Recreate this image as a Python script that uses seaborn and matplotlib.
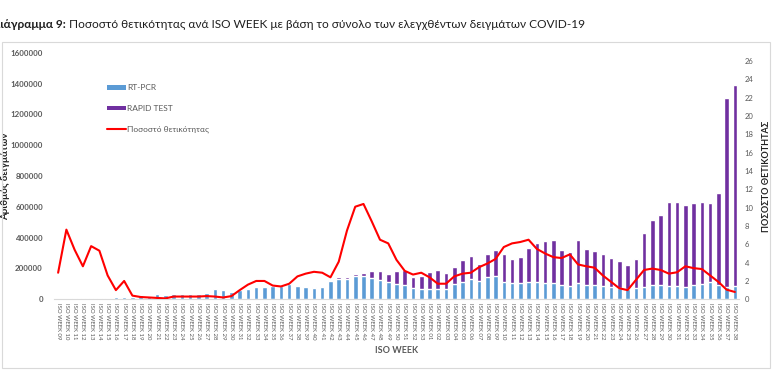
import numpy as np
import pandas as pd
import matplotlib
matplotlib.use("Agg")
import matplotlib.pyplot as plt
import seaborn as sns
from matplotlib.patches import Patch, Rectangle
from matplotlib.lines import Line2D

# Εβδομάδες ISO (2020: 09-53, 2021: 01-38)
weeks_2020 = [f"{w:02d}" for w in range(9, 54)]
weeks_2021 = [f"{w:02d}" for w in range(1, 39)]
week_labels = ["ISO WEEK " + w for w in weeks_2020 + weeks_2021]

# Δείγματα RT-PCR ανά εβδομάδα
rt_pcr = [
    3000, 4000, 6000, 11000, 8000, 11000, 11000, 12000, 14000, 17000,
    26000, 22000, 35000, 26000, 32000, 32000, 35000, 32000, 39000, 65000,
    63000, 48000, 58000, 69000, 78000, 80000, 89000, 89000, 100000, 84000,
    78000, 76000, 80000, 121000, 134000, 130000, 152000, 149000, 139000, 123000,
    110000, 102000, 93000, 71000, 65000,
    65000, 65000, 65000, 100000, 110000, 134000, 121000, 145000, 154000, 110000,
    104000, 104000, 113000, 113000, 108000, 108000, 91000, 87000, 108000, 95000,
    91000, 87000, 82000, 76000, 69000, 74000, 82000, 95000, 91000, 87000,
    87000, 82000, 95000, 100000, 113000, 95000, 82000, 87000,
]

# Δείγματα RAPID TEST ανά εβδομάδα
rapid_test = [
    0, 0, 0, 0, 0, 0, 0, 0, 0, 0,
    0, 0, 0, 0, 0, 0, 0, 0, 0, 0,
    0, 0, 0, 0, 0, 0, 0, 0, 0, 2000,
    2000, 2000, 2000, 7000, 11000, 15000, 13000, 20000, 45000, 59000,
    55000, 82000, 100000, 74000, 84000,
    112000, 128000, 106000, 108000, 143000, 147000, 108000, 152000, 169000, 182000,
    160000, 173000, 220000, 251000, 273000, 275000, 229000, 220000, 275000, 234000,
    221000, 207000, 189000, 171000, 156000, 190000, 345000, 418000, 455000, 547000,
    543000, 528000, 533000, 534000, 510000, 593000, 1221000, 1305000,
]

# Ποσοστό θετικότητας (%)
positivity = [
    2.9, 7.6, 5.4, 3.6, 5.8, 5.3, 2.6, 1.0, 2.0, 0.4,
    0.25, 0.2, 0.15, 0.1, 0.3, 0.3, 0.3, 0.3, 0.35, 0.3,
    0.2, 0.35, 1.0, 1.6, 2.0, 2.0, 1.5, 1.4, 1.7, 2.5,
    2.8, 3.0, 2.9, 2.4, 4.1, 7.5, 10.1, 10.4, 8.5, 6.5,
    6.1, 4.3, 3.1, 2.7, 2.9,
    2.4, 1.7, 1.7, 2.5, 2.8, 2.9, 3.5, 3.9, 4.4, 5.7,
    6.1, 6.25, 6.5, 5.5, 5.0, 4.6, 4.5, 4.9, 3.8, 3.6,
    3.45, 2.6, 1.9, 1.2, 1.0, 2.1, 3.2, 3.35, 3.2, 2.8,
    2.95, 3.6, 3.4, 3.3, 2.6, 1.9, 1.05, 0.8,
]

df = pd.DataFrame({
    "week": week_labels,
    "rt_pcr": rt_pcr,
    "rapid": rapid_test,
    "positivity": positivity,
})
df["total"] = df["rt_pcr"] + df["rapid"]
df["pos"] = np.arange(len(df))  # μοναδικό κλειδί, οι ετικέτες επαναλαμβάνονται

sns.set_style("white")
plt.rcParams["font.family"] = ["Lato", "DejaVu Sans"]

blue = "#5B9BD5"
purple = "#7030A0"
red = "#FF0000"
grey_txt = "#595959"

fig = plt.figure(figsize=(7.8, 3.78), dpi=100)
W, H = 780, 378
ax = fig.add_axes([54 / W, 1 - 299.3 / H, (739 - 54) / W, (299.3 - 52.7) / H])

# Στοιβαγμένες μπάρες: πρώτα το σύνολο (μωβ), από πάνω το RT-PCR (μπλε)
sns.barplot(data=df, x="pos", y="total", color=purple, saturation=1,
            width=0.55, errorbar=None, ax=ax)
sns.barplot(data=df, x="pos", y="rt_pcr", color=blue, saturation=1,
            width=0.55, errorbar=None, ax=ax)

ax.set_ylim(0, 1600000)
ax.set_yticks(np.arange(0, 1600001, 200000))
ax.set_yticklabels([f"{int(v)}" for v in np.arange(0, 1600001, 200000)],
                   fontsize=5.7, color=grey_txt, fontweight="bold")
ax.set_xticks(df["pos"])
ax.set_xticklabels(df["week"])
ax.set_xlim(-0.5, len(df) - 0.5)
ax.tick_params(axis="x", labelrotation=270, labelsize=4.3, colors=grey_txt,
               length=0, pad=3)
ax.tick_params(axis="y", length=0, pad=8)
for s in ["top", "right", "left"]:
    ax.spines[s].set_visible(False)
ax.spines["bottom"].set_color("#D9D9D9")
ax.set_xlabel("ISO WEEK", fontsize=6.5, fontweight="bold", color=grey_txt,
              labelpad=4)
ax.set_ylabel("Αριθμός δειγμάτων", fontsize=7, fontweight="bold",
              color="#222222")
ax.yaxis.set_label_coords((10 - 54) / 685, 0.5)

# Δευτερεύων άξονας: ποσοστό θετικότητας
ax2 = ax.twinx()
sns.lineplot(data=df, x="pos", y="positivity", color=red, linewidth=1.5, ax=ax2)
ax2.set_ylim(0, 26.9)
ax2.set_yticks(np.arange(0, 27, 2))
ax2.set_yticklabels([str(v) for v in range(0, 27, 2)], fontsize=5.5,
                    color=grey_txt)
ax2.tick_params(axis="y", length=0, pad=4)
for s in ["top", "right", "left", "bottom"]:
    ax2.spines[s].set_visible(False)
ax2.set_ylabel("ΠΟΣΟΣΤΟ ΘΕΤΙΚΟΤΗΤΑΣ", fontsize=6.5, fontweight="bold",
               color="#222222", rotation=90)
ax2.yaxis.set_label_coords((762 - 54) / 685, 0.5)
ax2.set_xlim(-0.5, len(df) - 0.5)

# Υπόμνημα
handles = [
    Patch(facecolor=blue, edgecolor="none"),
    Patch(facecolor=purple, edgecolor="none"),
    Line2D([0], [0], color=red, linewidth=1.5),
]
leg = ax2.legend(handles, ["RT-PCR", "RAPID TEST", "Ποσοστό θετικότητας"],
                 loc="upper left", bbox_to_anchor=(100 / W, 1 - 77 / H),
                 bbox_transform=fig.transFigure, frameon=False, fontsize=6,
                 labelspacing=1.6, handlelength=2.2, handleheight=0.5,
                 handletextpad=0.2, labelcolor=grey_txt)

# Πλαίσιο γραφήματος
fig.patches.append(Rectangle((2 / W, 1 - 368 / H), 768 / W, (368 - 42) / H,
                             transform=fig.transFigure, fill=False,
                             edgecolor="#D9D9D9", linewidth=0.8))

# Τίτλος (κομμένος αριστερά όπως στην εικόνα)
t1 = fig.text(-8 / W, 1 - 25 / H, "Διάγραμμα 9:", fontsize=8.6,
              fontweight="bold", color="#1F1F1F", va="center")
fig.canvas.draw()
bb = t1.get_window_extent()
fig.text(bb.x1 / W + 3 / W, 1 - 25 / H,
         "Ποσοστό θετικότητας ανά ISO WEEK με βάση το σύνολο των ελεγχθέντων δειγμάτων COVID-19",
         fontsize=8.6, color="#1F1F1F", va="center")

fig.savefig("out.png", dpi=100)
